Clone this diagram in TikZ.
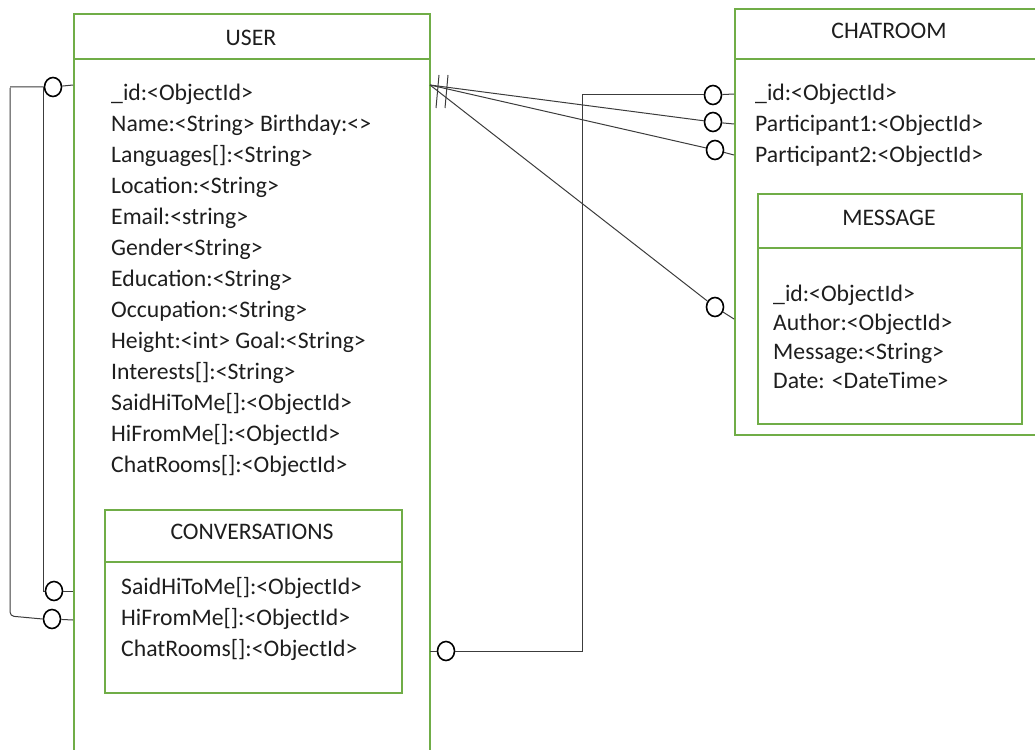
\documentclass[tikz,border=0pt]{standalone}
\usepackage{fontspec}
\setmainfont{Carlito}
\usetikzlibrary{shapes.geometric}
\definecolor{boxgreen}{RGB}{112,173,71}
\definecolor{ink}{RGB}{30,30,30}
\definecolor{wire}{RGB}{60,60,60}
\tikzset{
  tbl/.style={draw=boxgreen, line width=2.4pt, inner sep=0pt, anchor=north west},
  title/.style={inner sep=0pt, font=\fontsize{23.7}{28}\selectfont, text=ink},
  field/.style={anchor=west, inner sep=0pt, text height=0.75em, text depth=0.25em,
    font=\fontsize{23.7}{28}\selectfont, text=ink},
  zero/.style={ellipse, draw=black, line width=1.6pt, minimum width=17pt, minimum height=19pt, inner sep=0pt},
  link/.style={draw=wire, line width=1.0pt},
}
\begin{document}
\begin{tikzpicture}[x=1pt, y=-1pt]
\useasboundingbox (0,0) rectangle (1035,749);
\clip (0,0) rectangle (1035,749);

% USER table
\node[tbl, minimum width=356pt, minimum height=45pt] (userhead) at (73,13) {};
\node[title] (usertitle) at (251,38) {USER};
\node[tbl, minimum width=356pt, minimum height=710pt] (userbody) at (73,58) {};
\foreach \t [count=\i] in {{\_id:<ObjectId>},{Name:<String> Birthday:<>},{Languages[]:<String>},
  {Location:<String>},{Email:<string>},{Gender<String>},{Education:<String>},
  {Occupation:<String>},{Height:<int> Goal:<String>},{Interests[]:<String>},
  {SaidHiToMe[]:<ObjectId>},{HiFromMe[]:<ObjectId>},{ChatRooms[]:<ObjectId>}}
  \node[field] (uf\i) at (111,{67+31*\i}) {\t};

% CONVERSATIONS table (nested in USER)
\node[tbl, minimum width=297pt, minimum height=52pt] (convhead) at (104,509) {};
\node[title] (convtitle) at (252,532) {CONVERSATIONS};
\node[tbl, minimum width=297pt, minimum height=131pt] (convbody) at (104,561) {};
\foreach \t [count=\i] in {{SaidHiToMe[]:<ObjectId>},{HiFromMe[]:<ObjectId>},{ChatRooms[]:<ObjectId>}}
  \node[field] (cf\i) at (121,{561+31*\i}) {\t};

% CHATROOM table
\node[tbl, minimum width=310pt, minimum height=50pt] (chathead) at (734,8) {};
\node[title] (chattitle) at (889,31) {CHATROOM};
\node[tbl, minimum width=310pt, minimum height=376pt] (chatbody) at (734,58) {};
\foreach \t [count=\i] in {{\_id:<ObjectId>},{Participant1:<ObjectId>},{Participant2:<ObjectId>}}
  \node[field] (rf\i) at (755,{67+31*\i}) {\t};

% MESSAGE table (nested in CHATROOM)
\node[tbl, minimum width=264pt, minimum height=54pt] (msghead) at (757,193) {};
\node[title] (msgtitle) at (889,218) {MESSAGE};
\node[tbl, minimum width=264pt, minimum height=176pt] (msgbody) at (757,247) {};
\foreach \t [count=\i] in {{\_id:<ObjectId>},{Author:<ObjectId>},{Message:<String>},{Date: <DateTime>}}
  \node[field] (mf\i) at (773,{270+29*\i}) {\t};

% optional-end markers
\node[zero] (oU1) at (53,87) {};
\node[zero] (oU2) at (54,591) {};
\node[zero] (oU3) at (52,619) {};
\node[zero] (oId) at (713,95) {};
\node[zero] (oP1) at (713,122) {};
\node[zero] (oP2) at (715,150) {};
\node[zero] (oMsg) at (715,307) {};
\node[zero] (oConv) at (446,651) {};

% attachment points on the table edges
\coordinate (hub) at (430,85);
\coordinate (u1) at (73,85);
\coordinate (u2) at (73,591);
\coordinate (u3) at (73,620);
\coordinate (rId) at (734,94);
\coordinate (rP1) at (734,124);
\coordinate (rP2) at (734,155);
\coordinate (rMsg) at (734,319);
\coordinate (cv) at (430,651);
\coordinate (bend) at (582,0);
\coordinate (outer) at (10,0);

% self references on USER
\draw[link] (oU1) -- (u1);
\draw[link] (oU2) -- (u2);
\draw[link] (oU3) -- (u3);
\draw[link, rounded corners=4pt] (oU1.west) -- (oU1.west -| outer) ++(0,1) -- (10,616) -- (oU3.west);
\draw[link] (oU1.west) |- (oU2.west);

% USER to CHATROOM participants and MESSAGE
\draw[link] (hub) -- (oP1);  \draw[link] (oP1) -- (rP1);
\draw[link] (hub) -- (oP2);  \draw[link] (oP2) -- (rP2);
\draw[link] (hub) -- (oMsg); \draw[link] (oMsg) -- (rMsg);
\draw[link] (436,108) -- (439,75);
\draw[link] (445,108) -- (448,75);

% CONVERSATIONS.ChatRooms to CHATROOM._id
\draw[link] (cv) -- (oConv);
\draw[link] (oConv) -- (oConv -| bend) |- (oId);
\draw[link] (oId) -- (rId);
\end{tikzpicture}
\end{document}
